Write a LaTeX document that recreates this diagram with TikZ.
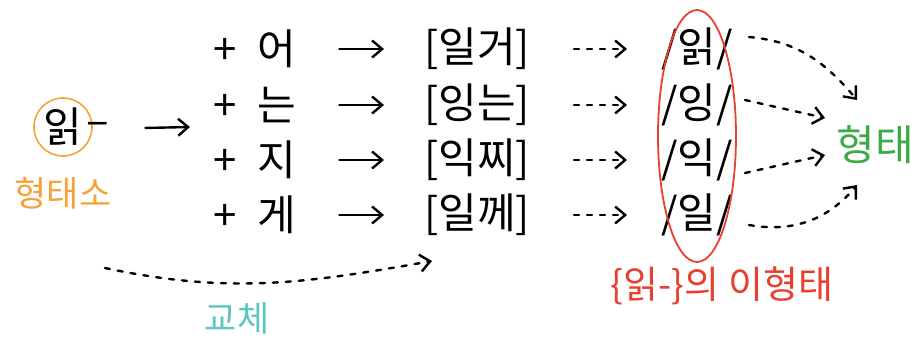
\documentclass[tikz,border=0pt]{standalone}
\usepackage{fontspec}
\setmainfont{Noto Sans CJK KR}
\usepackage{tikz}
\usetikzlibrary{positioning, arrows.meta, shapes.geometric, calc}

\definecolor{stemOrange}{HTML}{F6A23B}
\definecolor{alloRed}{HTML}{E8402F}
\definecolor{formGreen}{HTML}{3DAA48}
\definecolor{swapTeal}{HTML}{5CC6C2}

\tikzset{
	big/.style={font=\fontsize{42}{48}\selectfont, inner sep=2pt},
	mid/.style={font=\fontsize{35}{40}\selectfont, inner sep=2pt},
	arr/.style={line width=2.4pt, line cap=round, -{Straight Barb[length=10pt,width=17pt]}},
	darr/.style={arr, dash pattern=on 5pt off 8pt}
}

\begin{document}
\begin{tikzpicture}[x=1pt, y=1pt]
	\useasboundingbox (0,0) rectangle (922,338);
	\node[big, circle, draw=stemOrange, line width=1.6pt, minimum size=58pt, inner sep=0pt] (stem) at (63,211) {읽};
	\node[big] (hy) at (98,209) {–};
	\node[mid, text=stemOrange] (morph) at (63,145) {형태소};
	\coordinate (fork) at (190,211);
	\draw[arr, shorten <=34pt] (hy) -- (fork);
	\foreach \i/\suf/\pron/\alt/\y in {1/어/일거/읽/289, 2/는/잉는/잉/233, 3/지/익찌/익/178, 4/게/일께/일/123} {
		\node[big, anchor=west] (suf\i) at (211,\y) {+\hspace{0.5em}\suf};
		\node[big] (pr\i) at (477,\y) {[\pron]};
		\node[big] (al\i) at (697,\y) {/\alt/};
		\draw[arr, shorten <=41pt, shorten >=38pt] (suf\i) -- (pr\i);
		\draw[darr, shorten <=42pt, shorten >=32pt] (pr\i) -- (al\i);
	}
	\node[ellipse, draw=alloRed, line width=1.8pt, minimum width=78pt, minimum height=252pt, inner sep=0pt] (allo) at (697,202) {};
	\node[mid, font=\fontsize{38}{42}\selectfont, text=alloRed] (allolabel) at (722,52) {\{읽-\}의 이형태};
	\node[big, text=formGreen] (form) at (875,193) {형태};
	\coordinate (f1) at (857,238);
	\coordinate (f2) at (825,220);
	\coordinate (f3) at (825,183);
	\coordinate (f4) at (857,153);
	\draw[darr] ([shift={(14pt,12pt)}]al1.east) to[out=-5, in=130] (f1);
	\draw[darr] ([shift={(10pt,5pt)}]al2.east) -- (f2);
	\draw[darr] ([shift={(10pt,-13pt)}]al3.east) -- (f3);
	\draw[darr] ([shift={(14pt,-10pt)}]al4.east) to[out=-10, in=230] (f4);
	\coordinate (sw0) at (105,70);
	\coordinate (sw1) at (432,77);
	\draw[darr] (sw0) to[out=-12, in=190] (sw1);
	\node[mid, text=swapTeal] (swap) at (237,20) {교체};
\end{tikzpicture}
\end{document}
